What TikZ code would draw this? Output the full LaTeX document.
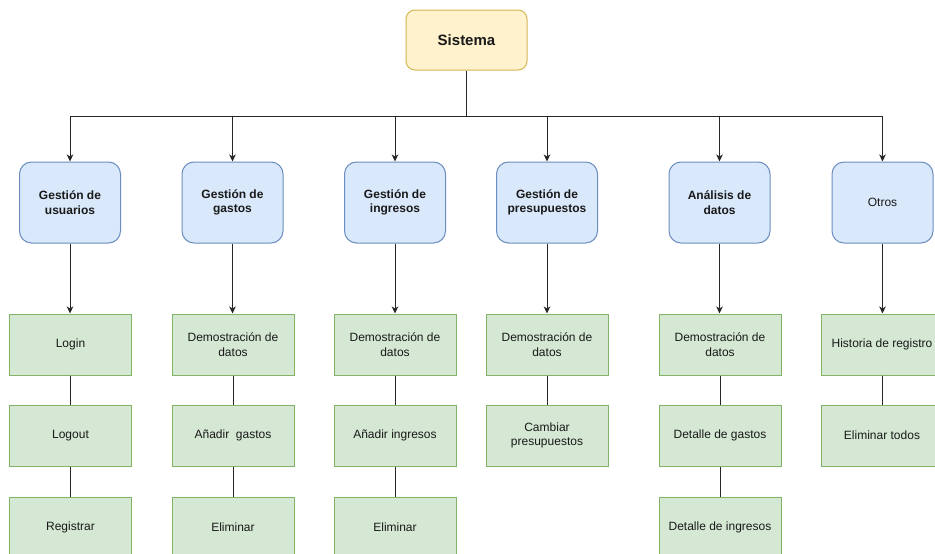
\documentclass[tikz,border=0pt]{standalone}
\usepackage{fontspec}
\setmainfont{Liberation Sans}
\usetikzlibrary{arrows.meta}
\definecolor{topfill}{HTML}{FFF2CC}
\definecolor{topline}{HTML}{D6B656}
\definecolor{areafill}{HTML}{DAE8FC}
\definecolor{arealine}{HTML}{6C8EBF}
\definecolor{taskfill}{HTML}{D5E8D4}
\definecolor{taskline}{HTML}{82B366}
\begin{document}
\begin{tikzpicture}[x=1pt,y=-1pt,
  base/.style={draw, line width=1pt, align=center, inner sep=0pt, text=black!90},
  root/.style={base, fill=topfill, draw=topline, rounded corners=9pt,
    minimum width=121pt, minimum height=60pt, font=\fontsize{15}{18}\selectfont\bfseries},
  area/.style={base, fill=areafill, draw=arealine, rounded corners=12pt,
    minimum width=101pt, minimum height=81pt, font=\fontsize{12}{14.4}\selectfont\bfseries},
  plainarea/.style={area, font=\fontsize{12}{14.4}\selectfont},
  task/.style={base, fill=taskfill, draw=taskline,
    minimum width=122pt, minimum height=61pt, font=\fontsize{12}{14.4}\selectfont},
  link/.style={line width=1pt, draw=black!85},
  arrow/.style={link, -{Stealth[length=7pt,width=6.5pt,inset=2pt]}}]

\clip (0,0) rectangle (935,554);
\fill[white] (0,0) rectangle (935,554);

% root
\node[root] (sys) at (466.5,40) {Sistema};
\coordinate (bus) at (466.5,116);

% functional areas
\node[area] (a1) at (70,202.5) {Gestión de\\usuarios};
\node[area] (a2) at (232.5,202.5) {Gestión de\\gastos};
\node[area] (a3) at (395,202.5) {Gestión de\\ingresos};
\node[area] (a4) at (547,202.5) {Gestión de\\presupuestos};
\node[area] (a5) at (719.5,202.5) {Análisis de\\datos};
\node[plainarea] (a6) at (882.5,202.5) {Otros};

% tasks
\node[task] (t11) at (70.5,344.5) {Login};
\node[task] (t12) at (70.5,435.5) {Logout};
\node[task] (t13) at (70.5,527.5) {Registrar};

\node[task] (t21) at (233,344.5) {Demostración de\\datos};
\node[task] (t22) at (233,435.5) {Añadir\ \ gastos};
\node[task] (t23) at (233,527.5) {Eliminar};

\node[task] (t31) at (395,344.5) {Demostración de\\datos};
\node[task] (t32) at (395,435.5) {Añadir ingresos};
\node[task] (t33) at (395,527.5) {Eliminar};

\node[task] (t41) at (547,344.5) {Demostración de\\datos};
\node[task] (t42) at (547,435.5) {Cambiar\\presupuestos};

\node[task] (t51) at (720,344.5) {Demostración de\\datos};
\node[task] (t52) at (720,435.5) {Detalle de gastos};
\node[task] (t53) at (720,527.5) {Detalle de ingresos};

\node[task] (t61) at (882,344.5) {Historia de registro};
\node[task] (t62) at (882,435.5) {Eliminar todos};

% connectors
\draw[link] (sys.south) -- (bus);
\foreach \a in {a1,a2,a3,a4,a5,a6}
  \draw[arrow] (bus) -| (\a.north);

\draw[arrow] (a1.south) -- (a1.south |- t11.north);
\draw[arrow] (a2.south) -- (a2.south |- t21.north);
\draw[arrow] (a3.south) -- (a3.south |- t31.north);
\draw[arrow] (a4.south) -- (a4.south |- t41.north);
\draw[arrow] (a5.south) -- (a5.south |- t51.north);
\draw[arrow] (a6.south) -- (a6.south |- t61.north);

\draw[link] (t11) -- (t12);
\draw[link] (t12) -- (t13);
\draw[link] (t21) -- (t22);
\draw[link] (t22) -- (t23);
\draw[link] (t31) -- (t32);
\draw[link] (t32) -- (t33);
\draw[link] (t41) -- (t42);
\draw[link] (t51) -- (t52);
\draw[link] (t52) -- (t53);
\draw[link] (t61) -- (t62);
\end{tikzpicture}
\end{document}
